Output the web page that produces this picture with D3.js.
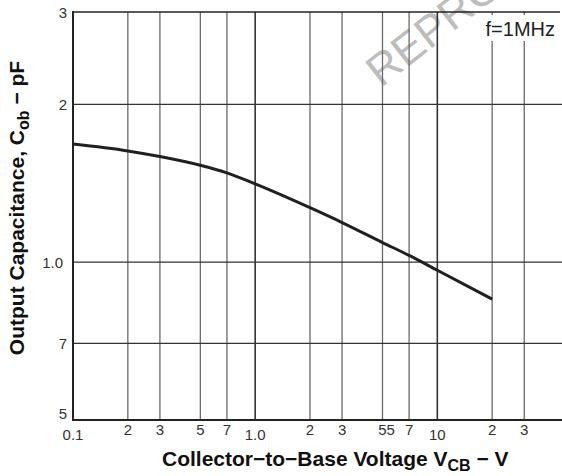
<!DOCTYPE html>
<html>
<head>
<meta charset="utf-8">
<script src="https://cdn.jsdelivr.net/npm/d3@7"></script>
<style>
  body { margin: 0; background: #fff; }
  svg text { font-family: "Liberation Sans", Arial, Helvetica, sans-serif; }
</style>
</head>
<body>
<div id="chart"></div>
<script>
// curve
var voltage = [0.1, 0.2, 0.3, 0.5, 0.7, 1, 2, 3, 5, 7, 10, 20];
var capacitance = [1.68, 1.63, 1.59, 1.53, 1.48, 1.41, 1.27, 1.19, 1.09, 1.03, 0.965, 0.85];

var xGrid = [0.2, 0.3, 0.5, 0.7, 1, 2, 3, 5, 7, 10, 20, 30];
var xTickValues = [0.1, 0.2, 0.3, 0.5, 0.7, 1, 2, 3, 5, 7, 10, 20, 30];
var xTickLabels = ["0.1", "2", "3", "5", "7", "1.0", "2", "3", "55", "7", "10", "2", "3"];
var yGrid = [0.7, 1, 2];
var yTickValues = [0.5, 0.7, 1, 2, 3];
var yTickLabels = ["5", "7", "1.0", "2", "3"];

var width = 562, height = 476;
var plotLeft = 73, plotTop = 12, plotBottom = 420, plotRight = 562;

var svg = d3.select("#chart").append("svg")
    .attr("width", width)
    .attr("height", height);

var x = d3.scaleLog().domain([0.1, 40]).range([plotLeft, 547]);
var y = d3.scaleLog().domain([0.5, 3]).range([plotBottom, plotTop]);

// watermark
svg.append("text")
    .attr("transform", "translate(381,88) rotate(-38)")
    .attr("font-size", 44)
    .attr("fill", "#bdbdbd")
    .text("REPRODUCTION");

// vertical grid
svg.selectAll(".vgrid")
    .data(xGrid)
    .enter().append("line")
    .attr("class", "vgrid")
    .attr("x1", function (d) { return x(d); })
    .attr("x2", function (d) { return x(d); })
    .attr("y1", plotTop)
    .attr("y2", plotBottom)
    .attr("stroke", function (d) { return (d === 1 || d === 10) ? "#333" : "#6a6a6a"; })
    .attr("stroke-width", function (d) { return (d === 1 || d === 10) ? 1.6 : 1.3; });

// horizontal grid
svg.selectAll(".hgrid")
    .data(yGrid)
    .enter().append("line")
    .attr("class", "hgrid")
    .attr("x1", plotLeft)
    .attr("x2", plotRight)
    .attr("y1", function (d) { return y(d); })
    .attr("y2", function (d) { return y(d); })
    .attr("stroke", "#333")
    .attr("stroke-width", 1.4);

// frame: left, top, bottom
svg.append("line").attr("x1", plotLeft).attr("x2", plotLeft).attr("y1", plotTop - 1).attr("y2", plotBottom + 1)
    .attr("stroke", "#222").attr("stroke-width", 2);
svg.append("line").attr("x1", plotLeft).attr("x2", plotRight - 2).attr("y1", plotTop).attr("y2", plotTop)
    .attr("stroke", "#222").attr("stroke-width", 1.6);
svg.append("line").attr("x1", plotLeft).attr("x2", plotRight).attr("y1", plotBottom).attr("y2", plotBottom)
    .attr("stroke", "#222").attr("stroke-width", 2);

// f=1MHz label with white box
svg.append("rect").attr("x", 477).attr("y", 15).attr("width", 83).attr("height", 26).attr("fill", "#fff");
svg.append("text")
    .attr("x", 555).attr("y", 36)
    .attr("text-anchor", "end")
    .attr("font-size", 20)
    .attr("fill", "#222")
    .text("f=1MHz");

// curve
var line = d3.line()
    .x(function (d, i) { return x(voltage[i]); })
    .y(function (d) { return y(d); })
    .curve(d3.curveMonotoneX);

svg.append("path")
    .datum(capacitance)
    .attr("d", line)
    .attr("fill", "none")
    .attr("stroke", "#231f20")
    .attr("stroke-width", 3);

// x tick labels
svg.selectAll(".xlab")
    .data(xTickValues)
    .enter().append("text")
    .attr("class", "xlab")
    .attr("x", function (d, i) { return x(d) + (xTickLabels[i] === "55" ? 4 : 0); })
    .attr("y", function (d) { return ([0.1, 1, 10].indexOf(d) >= 0) ? 440 : 435; })
    .attr("text-anchor", "middle")
    .attr("font-size", 15)
    .attr("fill", "#333")
    .text(function (d, i) { return xTickLabels[i]; });

// y tick labels
svg.selectAll(".ylab")
    .data(yTickValues)
    .enter().append("text")
    .attr("class", "ylab")
    .attr("x", function (d) { return d === 1 ? 63 : 67; })
    .attr("y", function (d) { return d === 0.5 ? y(d) - 1 : y(d) + 5.5; })
    .attr("text-anchor", "end")
    .attr("font-size", 15)
    .attr("fill", "#333")
    .text(function (d, i) { return yTickLabels[i]; });

// axis titles
var xt = svg.append("text")
    .attr("x", 162).attr("y", 466)
    .attr("text-anchor", "start")
    .attr("font-size", 21)
    .attr("font-weight", "bold")
    .attr("fill", "#111");
xt.append("tspan").text("Collector\u2212to\u2212Base Voltage V");
xt.append("tspan").attr("font-size", 16).attr("dy", 5).text("CB");
xt.append("tspan").attr("dy", -5).text(" \u2212 V");

var yt = svg.append("text")
    .attr("transform", "translate(24,208) rotate(-90)")
    .attr("text-anchor", "middle")
    .attr("font-size", 21)
    .attr("font-weight", "bold")
    .attr("fill", "#111");
yt.append("tspan").text("Output Capacitance, C");
yt.append("tspan").attr("font-size", 16).attr("dy", 5).text("ob");
yt.append("tspan").attr("dy", -5).text(" \u2212 pF");
</script>
</body>
</html>
